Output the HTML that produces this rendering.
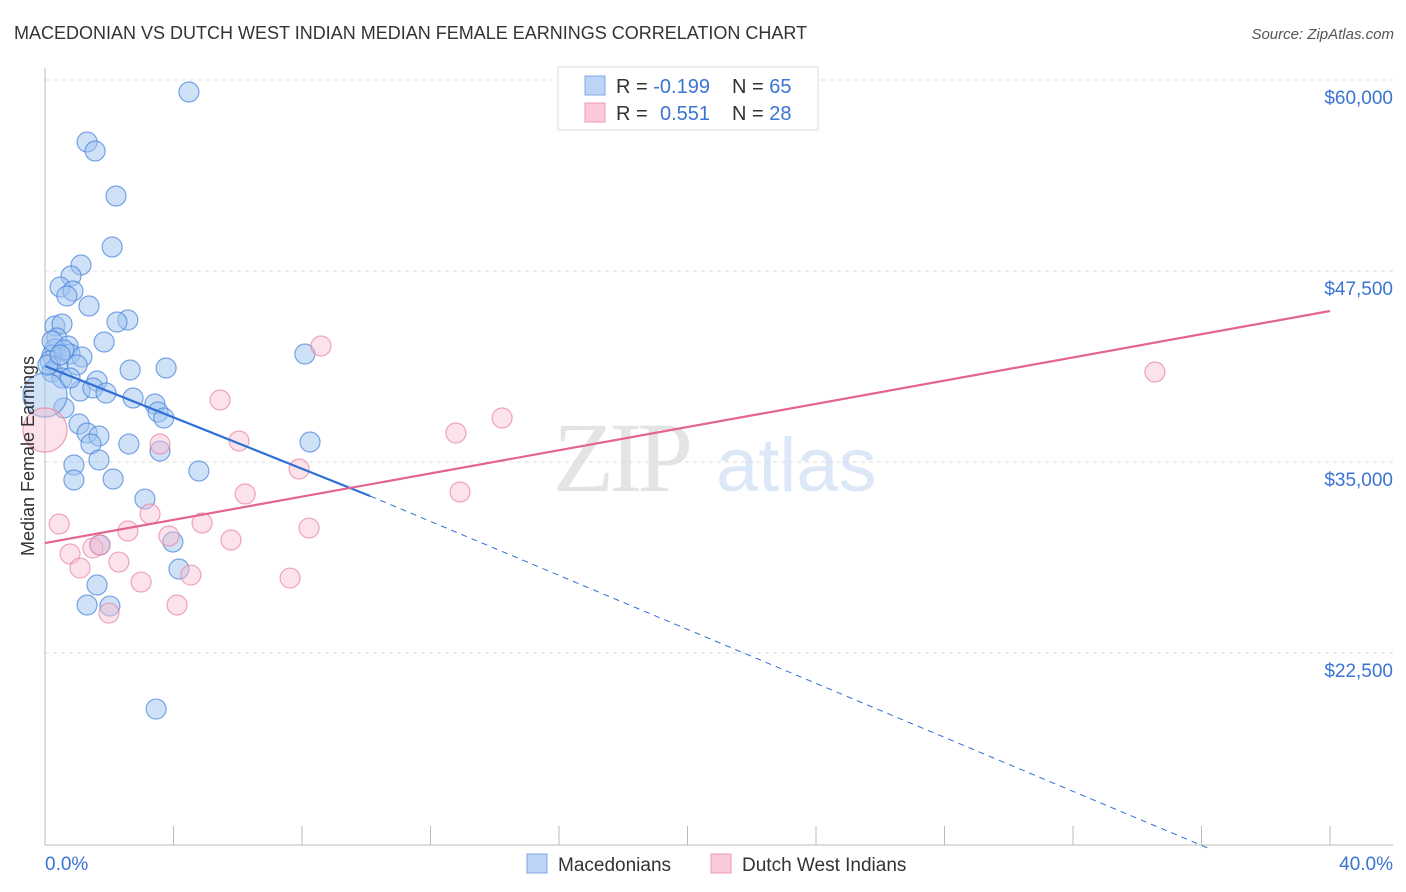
<!DOCTYPE html>
<html><head><meta charset="utf-8">
<style>
body{margin:0;background:#fff;font-family:"Liberation Sans",sans-serif;}
svg{display:block}
</style></head>
<body>
<svg id="chart" width="1406" height="892" xmlns="http://www.w3.org/2000/svg">
<text x="14" y="39" font-size="18" fill="#333">MACEDONIAN VS DUTCH WEST INDIAN MEDIAN FEMALE EARNINGS CORRELATION CHART</text>
<text x="1394" y="39" font-size="15" fill="#555" font-style="italic" text-anchor="end">Source: ZipAtlas.com</text>
<g>
<text x="553" y="491" font-family="Liberation Serif,serif" font-size="100" fill="#e4e4e4" textLength="140">ZIP</text>
<text x="716" y="491" font-size="76" fill="#dce8f7">atlas</text>
</g>
<g id="grid"></g>
<g id="axes"></g>
<g id="pts"></g>
<g id="lines"></g>
<text transform="translate(34,456) rotate(-90)" font-size="18" fill="#333" text-anchor="middle">Median Female Earnings</text>
<g>
<rect x="558" y="67" width="260" height="63" fill="#fff" stroke="#ddd"/>
<rect x="585" y="76" width="20" height="19" fill="#bcd4f5" stroke="#7fa8e6"/>
<rect x="585" y="103" width="20" height="19" fill="#fbcad8" stroke="#ee9ab4"/>
<text x="616" y="93" font-size="20" fill="#333">R = <tspan fill="#3a74d4">-0.199</tspan><tspan x="732">N = </tspan><tspan fill="#3a74d4">65</tspan></text>
<text x="616" y="120" font-size="20" fill="#333">R = <tspan x="660" fill="#3a74d4">0.551</tspan><tspan x="732">N = </tspan><tspan fill="#3a74d4">28</tspan></text>
</g>
<g>
<rect x="527" y="854" width="20" height="19" fill="#bcd4f5" stroke="#7fa8e6"/>
<text x="558" y="871" font-size="19" fill="#333">Macedonians</text>
<rect x="711" y="854" width="20" height="19" fill="#fbcad8" stroke="#ee9ab4"/>
<text x="742" y="871" font-size="19" fill="#333">Dutch West Indians</text>
</g>
</svg>
<script>
const yTicks=[60000,47500,35000,22500];
const yTickLabels=["$60,000","$47,500","$35,000","$22,500"];
const xTickLabels=["0.0%","40.0%"];
const blueX=[4.48,1.31,1.56,2.21,2.09,1.12,0.81,0.47,0.87,0.68,1.37,2.58,2.24,0.31,0.53,0.37,0.72,0.31,0.22,0.16,0.78,1.15,1.84,1.00,0.40,0.22,0.53,2.65,3.77,8.09,1.62,1.09,1.49,1.90,2.74,3.42,3.52,3.70,0.59,1.06,1.31,1.68,1.43,2.61,3.58,8.25,0.90,1.68,0.90,2.12,4.79,3.11,3.98,1.71,4.17,1.62,1.31,2.02,3.46,0,0.22,0.09,0.59,0.47,0.78];
const blueY=[59215,55942,55353,52408,49070,47892,47172,46452,46190,45863,45209,44292,44161,43900,44031,43114,42590,42394,42001,41609,42067,41871,42852,41347,41282,40889,40496,41020,41151,42067,40300,39646,39842,39515,39188,38795,38271,37879,38533,37486,36896,36700,36176,36176,35718,36307,34802,35129,33820,33885,34409,32576,29762,29566,27995,26948,25639,25573,18832,39384,42918,41347,42329,42001,40496];
const pinkX=[0,0.44,0.78,1.09,1.49,1.71,1.99,2.30,2.58,2.99,3.27,3.58,3.86,4.11,4.54,4.89,5.45,5.79,6.04,6.23,7.63,7.91,8.22,8.59,12.79,12.92,14.23,34.55];
const pinkY=[37093,30940,28977,28060,29369,29566,25115,28453,30482,27144,31595,36176,30155,25639,27602,31006,39057,29893,36373,32904,27405,34540,30678,42590,36896,33035,37879,40889];
const blueTrend=[0,41282,10.12,32773];
const blueTrendExt=[10.12,32773,36.27,9674];
const pinkTrend=[0,29697,40,44881];

const NS="http://www.w3.org/2000/svg";
const X=v=>45+v/40*1285;
const Y=v=>80+(60000-v)/12500*191;
function mk(tag,attrs,parent){const e=document.createElementNS(NS,tag);for(const k in attrs)e.setAttribute(k,attrs[k]);parent.appendChild(e);return e;}
const grid=document.getElementById('grid'),axes=document.getElementById('axes'),pts=document.getElementById('pts'),lines=document.getElementById('lines');
yTicks.forEach((t,i)=>{
  const l=mk('line',{x1:45,x2:1393,y1:Y(t),y2:Y(t),stroke:'#ddd','stroke-dasharray':'4,4'},grid);
  
  
  const tx=mk('text',{x:1393,y:Y(t)+24,'font-size':19,fill:'#3a74d4','text-anchor':'end'},axes);
  tx.textContent=yTickLabels[i];
  
  
});
mk('line',{x1:45,x2:45,y1:68,y2:845,stroke:'#bbb'},axes);
mk('line',{x1:45,x2:1393,y1:845,y2:845,stroke:'#bbb'},axes);
for(let i=0;i<=10;i++){
  const t=mk('line',{x1:X(i*4),x2:X(i*4),y1:826,y2:845,stroke:'#bbb'},axes);
  
  
}
const xl0=mk('text',{x:45,y:870,'font-size':19,fill:'#3a74d4'},axes);xl0.textContent=xTickLabels[0];


const xl1=mk('text',{x:1393,y:870,'font-size':19,fill:'#3a74d4','text-anchor':'end'},axes);xl1.textContent=xTickLabels[1];



blueX.forEach((v,i)=>{
  const c=mk('circle',{cx:X(v),cy:Y(blueY[i]),r:v===0?22:10,fill:'rgba(160,196,240,0.5)',stroke:'rgba(70,130,220,0.7)','stroke-width':1.2},pts);
  
  
});
pinkX.forEach((v,i)=>{
  const c=mk('circle',{cx:X(v),cy:Y(pinkY[i]),r:v===0?22:10,fill:'rgba(248,190,208,0.45)',stroke:'rgba(232,130,160,0.7)','stroke-width':1.2},pts);
  
  
});
const bl=mk('line',{x1:X(blueTrend[0]),y1:Y(blueTrend[1]),x2:X(blueTrend[2]),y2:Y(blueTrend[3]),stroke:'#2f6fd6','stroke-width':2.2},lines);


const be=mk('line',{x1:X(blueTrendExt[0]),y1:Y(blueTrendExt[1]),x2:X(blueTrendExt[2]),y2:Y(blueTrendExt[3]),stroke:'#2f6fd6','stroke-width':1,'stroke-dasharray':'6,5'},lines);


const pl=mk('line',{x1:X(pinkTrend[0]),y1:Y(pinkTrend[1]),x2:X(pinkTrend[2]),y2:Y(pinkTrend[3]),stroke:'#e5648f','stroke-width':2.2},lines);


</script>
</body></html>
